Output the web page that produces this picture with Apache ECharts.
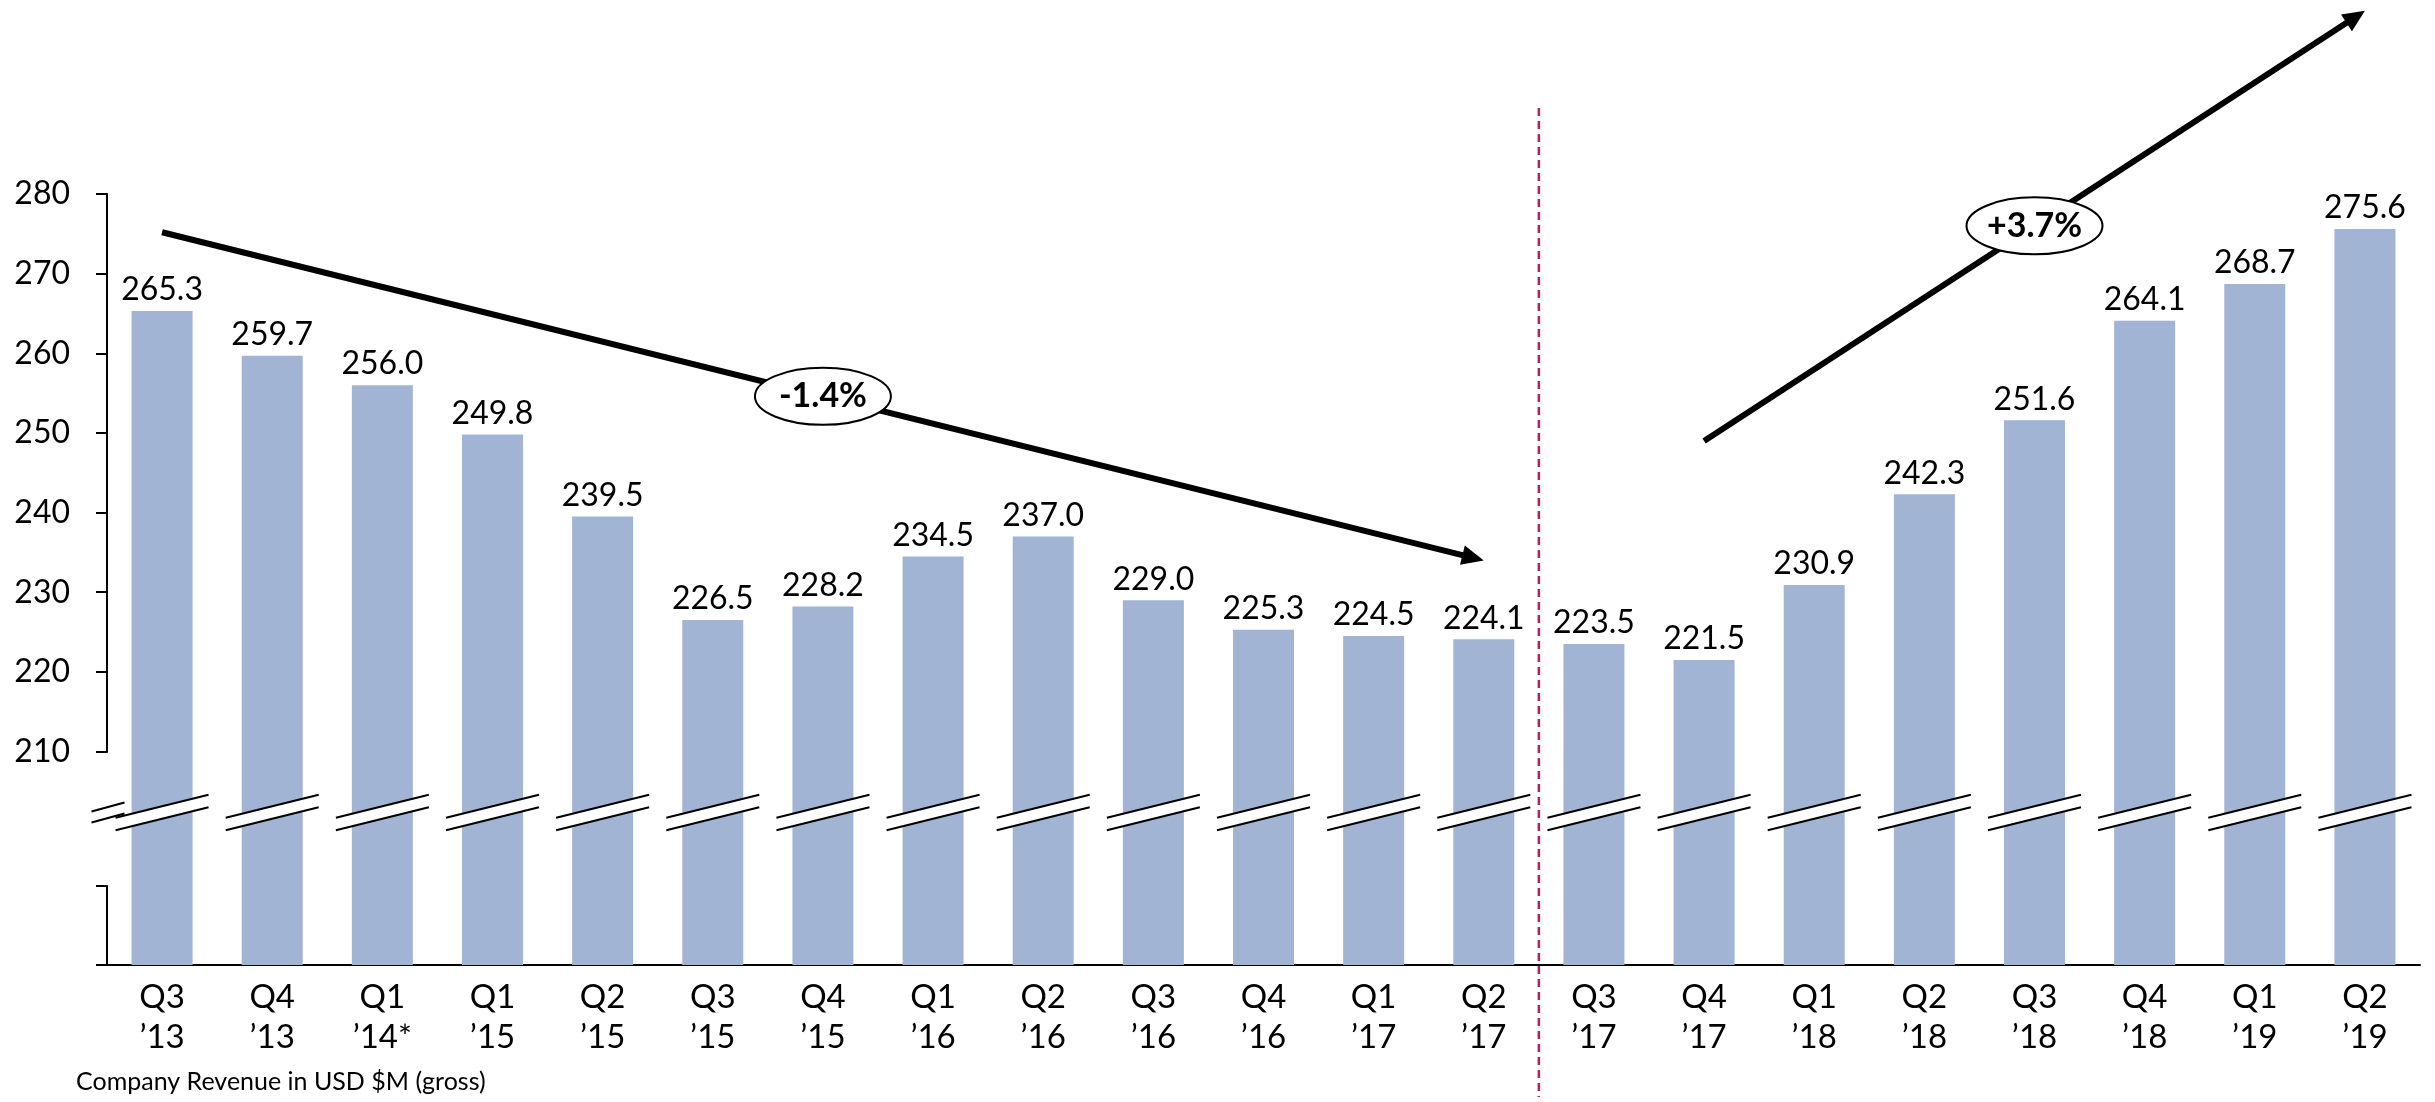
<!DOCTYPE html>
<html><head><meta charset="utf-8">
<script src="https://cdn.jsdelivr.net/npm/echarts@6/dist/echarts.min.js"></script>
<style>html,body{margin:0;padding:0;background:#fff}#c{width:2435px;height:1102px}</style>
</head><body><div id="c"></div>
<script>
const quarters = ['Q3','Q4','Q1','Q1','Q2','Q3','Q4','Q1','Q2','Q3','Q4','Q1','Q2','Q3','Q4','Q1','Q2','Q3','Q4','Q1','Q2'];
const years = ['’13','’13','’14*','’15','’15','’15','’15','’16','’16','’16','’16','’17','’17','’17','’17','’18','’18','’18','’18','’19','’19'];
const revenue = [265.3,259.7,256.0,249.8,239.5,226.5,228.2,234.5,237.0,229.0,225.3,224.5,224.1,223.5,221.5,230.9,242.3,251.6,264.1,268.7,275.6];
const yTickLabels = [210,220,230,240,250,260,270,280];
const yBreak = {start: 10, end: 210, gap: 16.8};
const trendArrows = [
  {from: [0, 275.2], to: [12, 234], label: '-1.4%'},
  {from: [14, 249], to: [20, 303], label: '+3.7%'}
];
const dividerAfter = 12;
const captionText = 'Company Revenue in USD $M (gross)';

const categories = quarters.map((q, i) => q + '\n' + years[i]);
const FONT = 'Lato, "Open Sans", sans-serif';
const yTop = yTickLabels[yTickLabels.length - 1];

function yAt(api, v) {
  if (v <= yTop) return api.coord([0, v])[1];
  const a = api.coord([0, yTop])[1], b = api.coord([0, yTop - 10])[1];
  return a - (v - yTop) / 10 * (b - a);
}
function xAt(api, i) { return api.coord([i, yTop])[0]; }

const chart = echarts.init(document.getElementById('c'), null, {renderer: 'canvas'});
chart.setOption({
  animation: false,
  backgroundColor: '#fff',
  title: {
    text: captionText, left: 76, top: 1069, padding: 0,
    textStyle: {fontFamily: FONT, fontSize: 25, fontWeight: 'normal', color: '#000'}
  },
  grid: {left: 107, right: 15, top: 194, bottom: 137, containLabel: false},
  xAxis: {
    type: 'category', data: categories,
    axisLine: {show: true, lineStyle: {color: '#000', width: 2}},
    axisTick: {show: false},
    axisLabel: {fontFamily: FONT, fontSize: 33, lineHeight: 40, color: '#000', margin: 12, interval: 0}
  },
  yAxis: {
    type: 'value', min: 0, max: 280, interval: 10,
    breaks: [{start: yBreak.start, end: yBreak.end, gap: yBreak.gap}],
    breakArea: {show: false},
    axisLine: {show: true, lineStyle: {color: '#000', width: 2}},
    axisTick: {show: true, length: 11, lineStyle: {color: '#000', width: 2}},
    axisLabel: {
      fontFamily: FONT, fontSize: 32, color: '#000', margin: 37,
      formatter: v => yTickLabels.indexOf(v) >= 0 ? String(v) : ''
    },
    splitLine: {show: false}
  },
  series: [
    {
      type: 'bar', data: revenue, barWidth: 61, z: 2,
      itemStyle: {color: '#A1B4D4'},
      label: {show: true, position: 'top', distance: 5, fontFamily: FONT, fontSize: 32, color: '#000',
        formatter: p => p.value.toFixed(1)}
    },
    {
      type: 'custom', z: 3, clip: false, silent: true,
      data: revenue.map((v, i) => [i, 100]),
      renderItem(params, api) {
        const i = api.value(0);
        const x = api.coord([i, yTop])[0];
        const yc = (api.coord([i, yBreak.start])[1] + api.coord([i, yBreak.end])[1]) / 2 - 6;
        const mark = (cx, hw, dy, sep) => [
          {type: 'polygon', shape: {points: [[cx - hw, yc - sep + dy], [cx + hw, yc - sep - dy], [cx + hw, yc + sep - dy], [cx - hw, yc + sep + dy]]}, style: {fill: '#fff'}},
          {type: 'line', shape: {x1: cx - hw, y1: yc - sep + dy, x2: cx + hw, y2: yc - sep - dy}, style: {stroke: '#000', lineWidth: 2}},
          {type: 'line', shape: {x1: cx - hw, y1: yc + sep + dy, x2: cx + hw, y2: yc + sep - dy}, style: {stroke: '#000', lineWidth: 2}}
        ];
        let children = mark(x, 46.5, 11.5, 6.25);
        if (i === 0) {
          const bw = api.size([1, 0])[0];
          children = children.concat(mark(x - bw / 2 + 1, 16.5, 4.5, 5.5));
        }
        return {type: 'group', children};
      }
    },
    {
      type: 'custom', z: 4, clip: false, silent: true,
      data: [[dividerAfter, 100]],
      renderItem(params, api) {
        const i = api.value(0);
        const x = (xAt(api, i) + xAt(api, i + 1)) / 2;
        const y1 = yAt(api, yTop) - 86;
        const y2 = api.getHeight() - 5;
        return {type: 'line', shape: {x1: x, y1, x2: x, y2},
          style: {stroke: '#C0196E', lineWidth: 2.5, lineDash: [8, 5]}};
      }
    },
    {
      type: 'custom', z: 5, clip: false, silent: true,
      data: trendArrows.map(a => [a.from[0], a.from[1], a.to[0], a.to[1]]),
      renderItem(params, api) {
        const a = trendArrows[params.dataIndex];
        const p0 = [xAt(api, a.from[0]), yAt(api, a.from[1])];
        const p1 = [xAt(api, a.to[0]), yAt(api, a.to[1])];
        const dx = p1[0] - p0[0], dy = p1[1] - p0[1];
        const len = Math.sqrt(dx * dx + dy * dy);
        const ux = dx / len, uy = dy / len, nx = -uy, ny = ux;
        const hl = 22, hw = 10;
        const base = [p1[0] - ux * hl, p1[1] - uy * hl];
        const mid = [(p0[0] + p1[0]) / 2, (p0[1] + p1[1]) / 2];
        return {type: 'group', children: [
          {type: 'line', shape: {x1: p0[0], y1: p0[1], x2: base[0] + ux * 2, y2: base[1] + uy * 2}, style: {stroke: '#000', lineWidth: 6}},
          {type: 'polygon', shape: {points: [p1, [base[0] + nx * hw, base[1] + ny * hw], [base[0] - nx * hw, base[1] - ny * hw]]}, style: {fill: '#000'}},
          {type: 'ellipse', shape: {cx: mid[0], cy: mid[1], rx: 68, ry: 28.5}, style: {fill: '#fff', stroke: '#000', lineWidth: 2}},
          {type: 'text', style: {text: a.label, x: mid[0], y: mid[1], fill: '#000', font: 'bold 34px ' + FONT, align: 'center', verticalAlign: 'middle'}}
        ]};
      }
    }
  ]
});
</script></body></html>
